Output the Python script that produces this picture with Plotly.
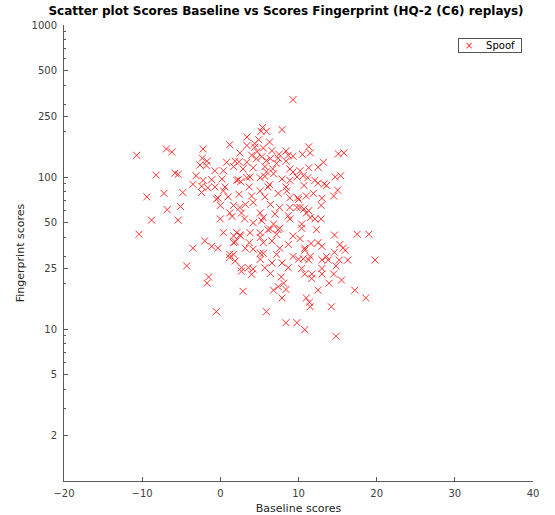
import plotly.graph_objects as go

baseline_scores = [
    -10.7, -10.4, -9.4, -8.8, -8.2, -7.2, -6.9, -6.2, -6.8, -5.8, -5.4, -5.1, -4.8, -5.4, -4.3, -3.5, -3.5, -3.1,
    -2.2, -2.3, -1.7, -2.6, -1.8, -2.4, -1.6, -2.4, -2.0, -1.1, -0.3, -1.5, -1.7, -0.5, -2.2,
    9.3, 5.4, 5.9, 5.2, 7.9, 3.4, 1.2, 3.4, 4.9, 6.3, 4.4, 4.7, 5.5, 2.5, 4.0, 5.3, 6.4, 7.5, 8.4, 8.7,
    0.8, 1.9, 3.4, 7.2, 8.4, -0.7, 0.4, 1.7, 2.9, 4.2, 5.7, 6.7, 8.9, -1.1, 0.2, 2.3, 2.6, 3.4, 5.1, 5.7,
    6.8, 7.9, 8.9, -0.7, 0.6, 3.7, 6.3, 8.4, -0.3, 1.0, 2.4, 4.0, 5.7, 7.4, 8.9, 0.0, 1.7, 3.2, 4.2, 6.4,
    7.6, 8.9, 1.2, 2.7, 5.1, 7.0,
    11.3, 10.5, 11.5, 15.1, 15.8, 13.2, 12.5, 11.3, 10.2, 10.6, 11.2, 9.8, 14.7, 15.4, 12.5, 13.6, 13.3,
    10.7, 15.0, 11.9, 14.5, 9.9, 13.0, 12.9, 10.0, 10.7, 10.2, 11.3,
    0.0, 1.5, 3.1, 4.2, 5.3, 6.8, 7.6, 8.9, 2.1, 2.6, 3.8, 5.1, 6.4, 7.2, 9.3, 1.9, 3.2, 4.2, 5.5, 6.6,
    7.6, 8.7, 5.1, 1.2, 1.9, 2.7, 3.6, 4.2, 5.1, 5.7, 6.6, 6.4, 7.9, 8.7, 9.3, 4.0, 7.8, 7.4, 6.8, 7.9,
    8.4, 2.9, 5.9, 8.4, 9.8, 1.2, 1.7, 2.7, 8.1,
    10.4, 11.5, 12.9, 12.3, 14.6, 17.5, 19.0, 10.2, 11.6, 12.5, 13.0, 15.3, 14.6, 15.7, 16.0, 10.8, 10.6,
    11.5, 11.3, 10.0, 13.0, 13.6, 13.8, 15.2, 16.3, 19.8, 10.4, 13.0, 14.8, 10.8, 11.7, 13.0, 14.5, 11.7,
    15.5, 13.9, 12.5, 17.2, 18.6, 11.0, 11.4, 11.5, 14.2, 10.8, 14.8,
    4.4, 6.6, 9.3, 2.4, 4.6, 5.9, 7.4, 2.1, 3.8, 5.9, 9.3, 12.1, -0.5, 0.4, 5.1, 6.1, 8.5, 11.0, 2.5, 5.5,
    8.7, 9.8, 11.0, 12.1, 0.4, 1.7, 2.5, 3.7, 5.1, 6.1, 7.4, 10.4, 10.8, 1.7, 5.5, 7.2,
]

fingerprint_scores = [
    139, 42, 74, 52, 103, 78, 153, 146, 61, 106, 104, 64, 79, 52, 26, 34, 89.5, 102,
    153, 133, 127, 120, 119, 87, 85, 79, 38, 35, 34, 22, 20, 13, 95,
    323, 212, 200, 200, 205, 183, 163, 161, 176, 170, 157, 147, 155, 144, 139, 136, 132, 141, 148, 139,
    125, 127, 125, 123, 127, 110, 110, 117, 113, 115, 117, 113, 113, 96, 97, 96, 93, 99, 99, 101,
    105, 97, 95, 86, 86, 86, 89, 86, 72.7, 74, 77, 75, 74, 78, 73, 65, 65, 66, 68, 66,
    63, 63, 58, 58, 58, 57,
    158, 141, 144, 142, 144, 125, 116, 115, 110, 102, 99, 100, 100, 102, 91, 88, 90,
    88, 82, 78, 75, 73, 72.5, 65, 71, 61.5, 63, 60,
    53, 55, 53, 50, 51.5, 49, 46, 53, 43, 41, 43, 43, 45.5, 42, 41, 37.5, 34, 33.5, 37, 38,
    34, 36, 31.5, 29.5, 28, 25.3, 25.3, 24.8, 28.7, 25.3, 27.2, 23.2, 27.2, 25.3, 30, 22.9, 22, 19, 18, 16,
    18.2, 17.7, 13, 11, 11, 31, 37, 24, 20,
    49, 54, 53, 45, 41.5, 42, 42, 39.3, 36.5, 37, 35, 36, 32, 34, 33, 33, 29,
    30, 28.5, 28.8, 28.5, 30, 28.4, 28.4, 28.4, 28.4, 25, 25, 26, 23, 23, 23, 23, 21.5,
    21, 20, 18, 18, 16, 16, 15, 14, 14, 9.9, 8.95,
    166, 149, 137, 126, 132, 128, 133, 95, 100, 108, 108, 95, 71.6, 81, 81, 86, 81, 75, 63, 54,
    55.6, 63, 58, 53, 43, 41, 41.5, 37, 40, 45, 45, 46, 34, 31, 31.5, 31,
]

y_tick_vals = [2, 5, 10, 25, 50, 100, 250, 500, 1000]
y_tick_text = ["2", "5", "10", "25", "50", "100", "250", "500", "1000"]
x_tick_vals = [-20, -10, 0, 10, 20, 30, 40]
y_minor_vals = [2, 3, 4, 5, 6, 7, 8, 9, 20, 30, 40, 60, 70, 80, 90, 200, 300, 400, 600, 700, 800, 900]
legend_label = "Spoof"

FONT = "DejaVu Sans"
AX = "#5a5a5a"
TXT = "#404040"
MARK = "#ff3030"

fig = go.Figure()
fig.add_trace(go.Scatter(
    x=baseline_scores, y=fingerprint_scores, mode="markers", name=legend_label,
    showlegend=False,
    marker=dict(symbol="x-thin", size=7, color=MARK, line=dict(width=1, color=MARK)),
))

fig.add_annotation(
    xref="paper", yref="paper", x=0.977, y=0.972, xanchor="right", yanchor="top",
    text=f'<span style="color:{MARK}">×</span>    {legend_label}',
    showarrow=False, align="center", width=60, height=11,
    bgcolor="white", bordercolor="#555", borderwidth=1, borderpad=1,
    font=dict(family=FONT, size=10, color="black"),
)

fig.update_layout(
    width=555, height=515,
    margin=dict(l=64, r=22, t=25, b=34),
    paper_bgcolor="white", plot_bgcolor="white",
    font=dict(family=FONT, size=10, color=TXT),
    title=dict(text="<b>Scatter plot Scores Baseline vs Scores Fingerprint (HQ-2 (C6) replays)</b>",
               x=286 / 555, xanchor="center", y=1 - 11 / 515, yanchor="middle", yref="container",
               font=dict(family=FONT, size=12, color="black")),
    showlegend=False,
    xaxis=dict(range=[-20, 40], tickvals=x_tick_vals, ticks="inside", ticklen=4,
               tickcolor=AX, showline=True, linecolor=AX, linewidth=1, mirror=False,
               showgrid=False, zeroline=False, automargin=False, ticklabelstandoff=3,
               tickfont=dict(family=FONT, size=10, color=TXT),
               title=dict(text="Baseline scores", standoff=10,
                          font=dict(family=FONT, size=11, color="#262626"))),
    yaxis=dict(type="log", range=[0, 3], tickvals=y_tick_vals, ticktext=y_tick_text,
               ticks="inside", ticklen=4, tickcolor=AX, showline=True, linecolor=AX,
               linewidth=1, mirror=False, showgrid=False, zeroline=False, automargin=False,
               ticklabelstandoff=4,
               tickfont=dict(family=FONT, size=10, color=TXT),
               minor=dict(tickvals=y_minor_vals, ticks="inside", ticklen=2, tickcolor=AX, showgrid=False),
               title=dict(text="Fingerprint scores", standoff=4,
                          font=dict(family=FONT, size=11, color="#262626"))),
)

fig.write_html("out.html")
